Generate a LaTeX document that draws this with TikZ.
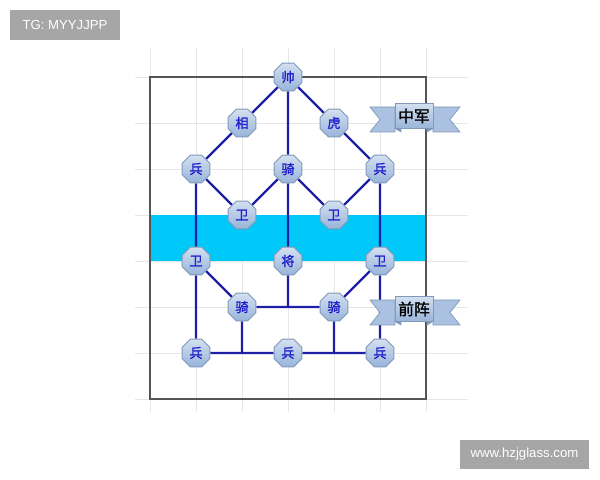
\documentclass[tikz,border=0pt]{standalone}
\usepackage{fontspec}
\setsansfont{Liberation Sans}
\newfontfamily\cjk{Noto Sans CJK SC}
\newfontfamily\cjkb[FakeBold=1.5]{Noto Sans CJK SC}
\usetikzlibrary{
  shapes.geometric,
  backgrounds
}

\definecolor{gridgray}{HTML}{E6E6E6}
\definecolor{framegray}{HTML}{555555}
\definecolor{bandcyan}{HTML}{00C8F8}
\definecolor{linkblue}{HTML}{1E1EA6}
\definecolor{posttop}{HTML}{D3E0F0}
\definecolor{postbot}{HTML}{98B4DA}
\definecolor{postedge}{HTML}{8199BB}
\definecolor{posttext}{HTML}{2020CC}
\definecolor{wmgray}{HTML}{A6A6A6}

\begin{document}
\begin{tikzpicture}[x=0.02cm,y=-0.02cm]
  \tikzset{
    post/.style = {
      regular polygon, regular polygon sides=8,
      minimum size=0.6cm, inner sep=0pt,
      draw=postedge, line width=0.5pt,
      top color=posttop, bottom color=postbot,
      text=posttext, font=\cjkb\fontsize{7.5}{8}\selectfont
    },
    link/.style = {draw=linkblue, line width=1.4pt},
    wmbox/.style = {fill=wmgray, text=white, inner sep=0pt,
      font=\sffamily\fontsize{7.5}{8}\selectfont},
    banner/.pic = {
      % two tails behind the middle plate
      \filldraw[draw=postedge, fill=postbot!70!posttop, line width=0.4pt]
        (-44,-9) -- (-19,-9) -- (-19,16) -- (-44,16) -- (-34,3.5) -- cycle
        (46,-9) -- (19,-9) -- (19,16) -- (46,16) -- (36,3.5) -- cycle;
      \filldraw[draw=postedge, fill=postedge, line width=0.3pt]
        (-19,12.5) -- (-13,16) -- (-13,12.5) -- cycle
        (19,12.5) -- (13,16) -- (13,12.5) -- cycle;
      \node[draw=postedge, line width=0.4pt, top color=posttop,
        bottom color=postbot, minimum width=0.76cm, minimum height=0.51cm,
        inner sep=0pt, font=\cjkb\fontsize{9}{10}\selectfont]
        (-txt) at (0,0) {#1};
    }
  }

  \useasboundingbox (0,0) rectangle (600,480);

  % the posts: name/x/y/text
  \foreach \n/\x/\y/\t in {
    shuai/288/77/帅, xiang/242/123/相, hu/334/123/虎,
    bingL/196/169/兵, qi/288/169/骑, bingR/380/169/兵,
    weiA/242/215/卫, weiB/334/215/卫,
    weiL/196/261/卫, jiang/288/261/将, weiR/380/261/卫,
    qiL/242/307/骑, qiR/334/307/骑,
    bingBL/196/353/兵, bingBM/288/353/兵, bingBR/380/353/兵}
  \node[post] (\n) at (\x,\y) {\t};

  % junctions on the lower lines
  \coordinate (jc) at (288,307);
  \coordinate (jl) at (242,353);
  \coordinate (jr) at (334,353);

  \begin{scope}[on background layer]
    % light grid behind everything
    \foreach \x in {150,196,...,426}
    \draw[gridgray, line width=0.5pt] (\x,48) -- (\x,412);
    \foreach \y in {77,123,...,399}
    \draw[gridgray, line width=0.5pt] (135,\y) -- (468,\y);

    % cyan band and frame
    \fill[bandcyan] (150,215) rectangle (426,261);
    \draw[framegray, line width=0.8pt] (150,77) rectangle (426,399);

    \foreach \a/\b in {
      shuai/xiang, shuai/qi, shuai/hu,
      xiang/bingL, hu/bingR,
      bingL/weiA, qi/weiA, qi/weiB, bingR/weiB,
      bingL/weiL, qi/jiang, bingR/weiR,
      weiL/qiL, weiR/qiR, jiang/jc, qiL/qiR,
      weiL/bingBL, weiR/bingBR,
      qiL/jl, qiR/jr, bingBL/bingBM, bingBM/bingBR}
    \draw[link] (\a) -- (\b);
  \end{scope}

  % the two ribbons
  \pic (zj) at (414,116) {banner=中军};
  \pic (qz) at (414,309) {banner=前阵};

  % corner marks
  \node[wmbox, minimum width=2.2cm, minimum height=0.6cm]
    (tg) at (65,25) {TG: MYYJJPP};
  \node[wmbox, minimum width=2.6cm, minimum height=0.6cm]
    (www) at (524.5,454.5) {www.hzjglass.com};
\end{tikzpicture}
\end{document}
